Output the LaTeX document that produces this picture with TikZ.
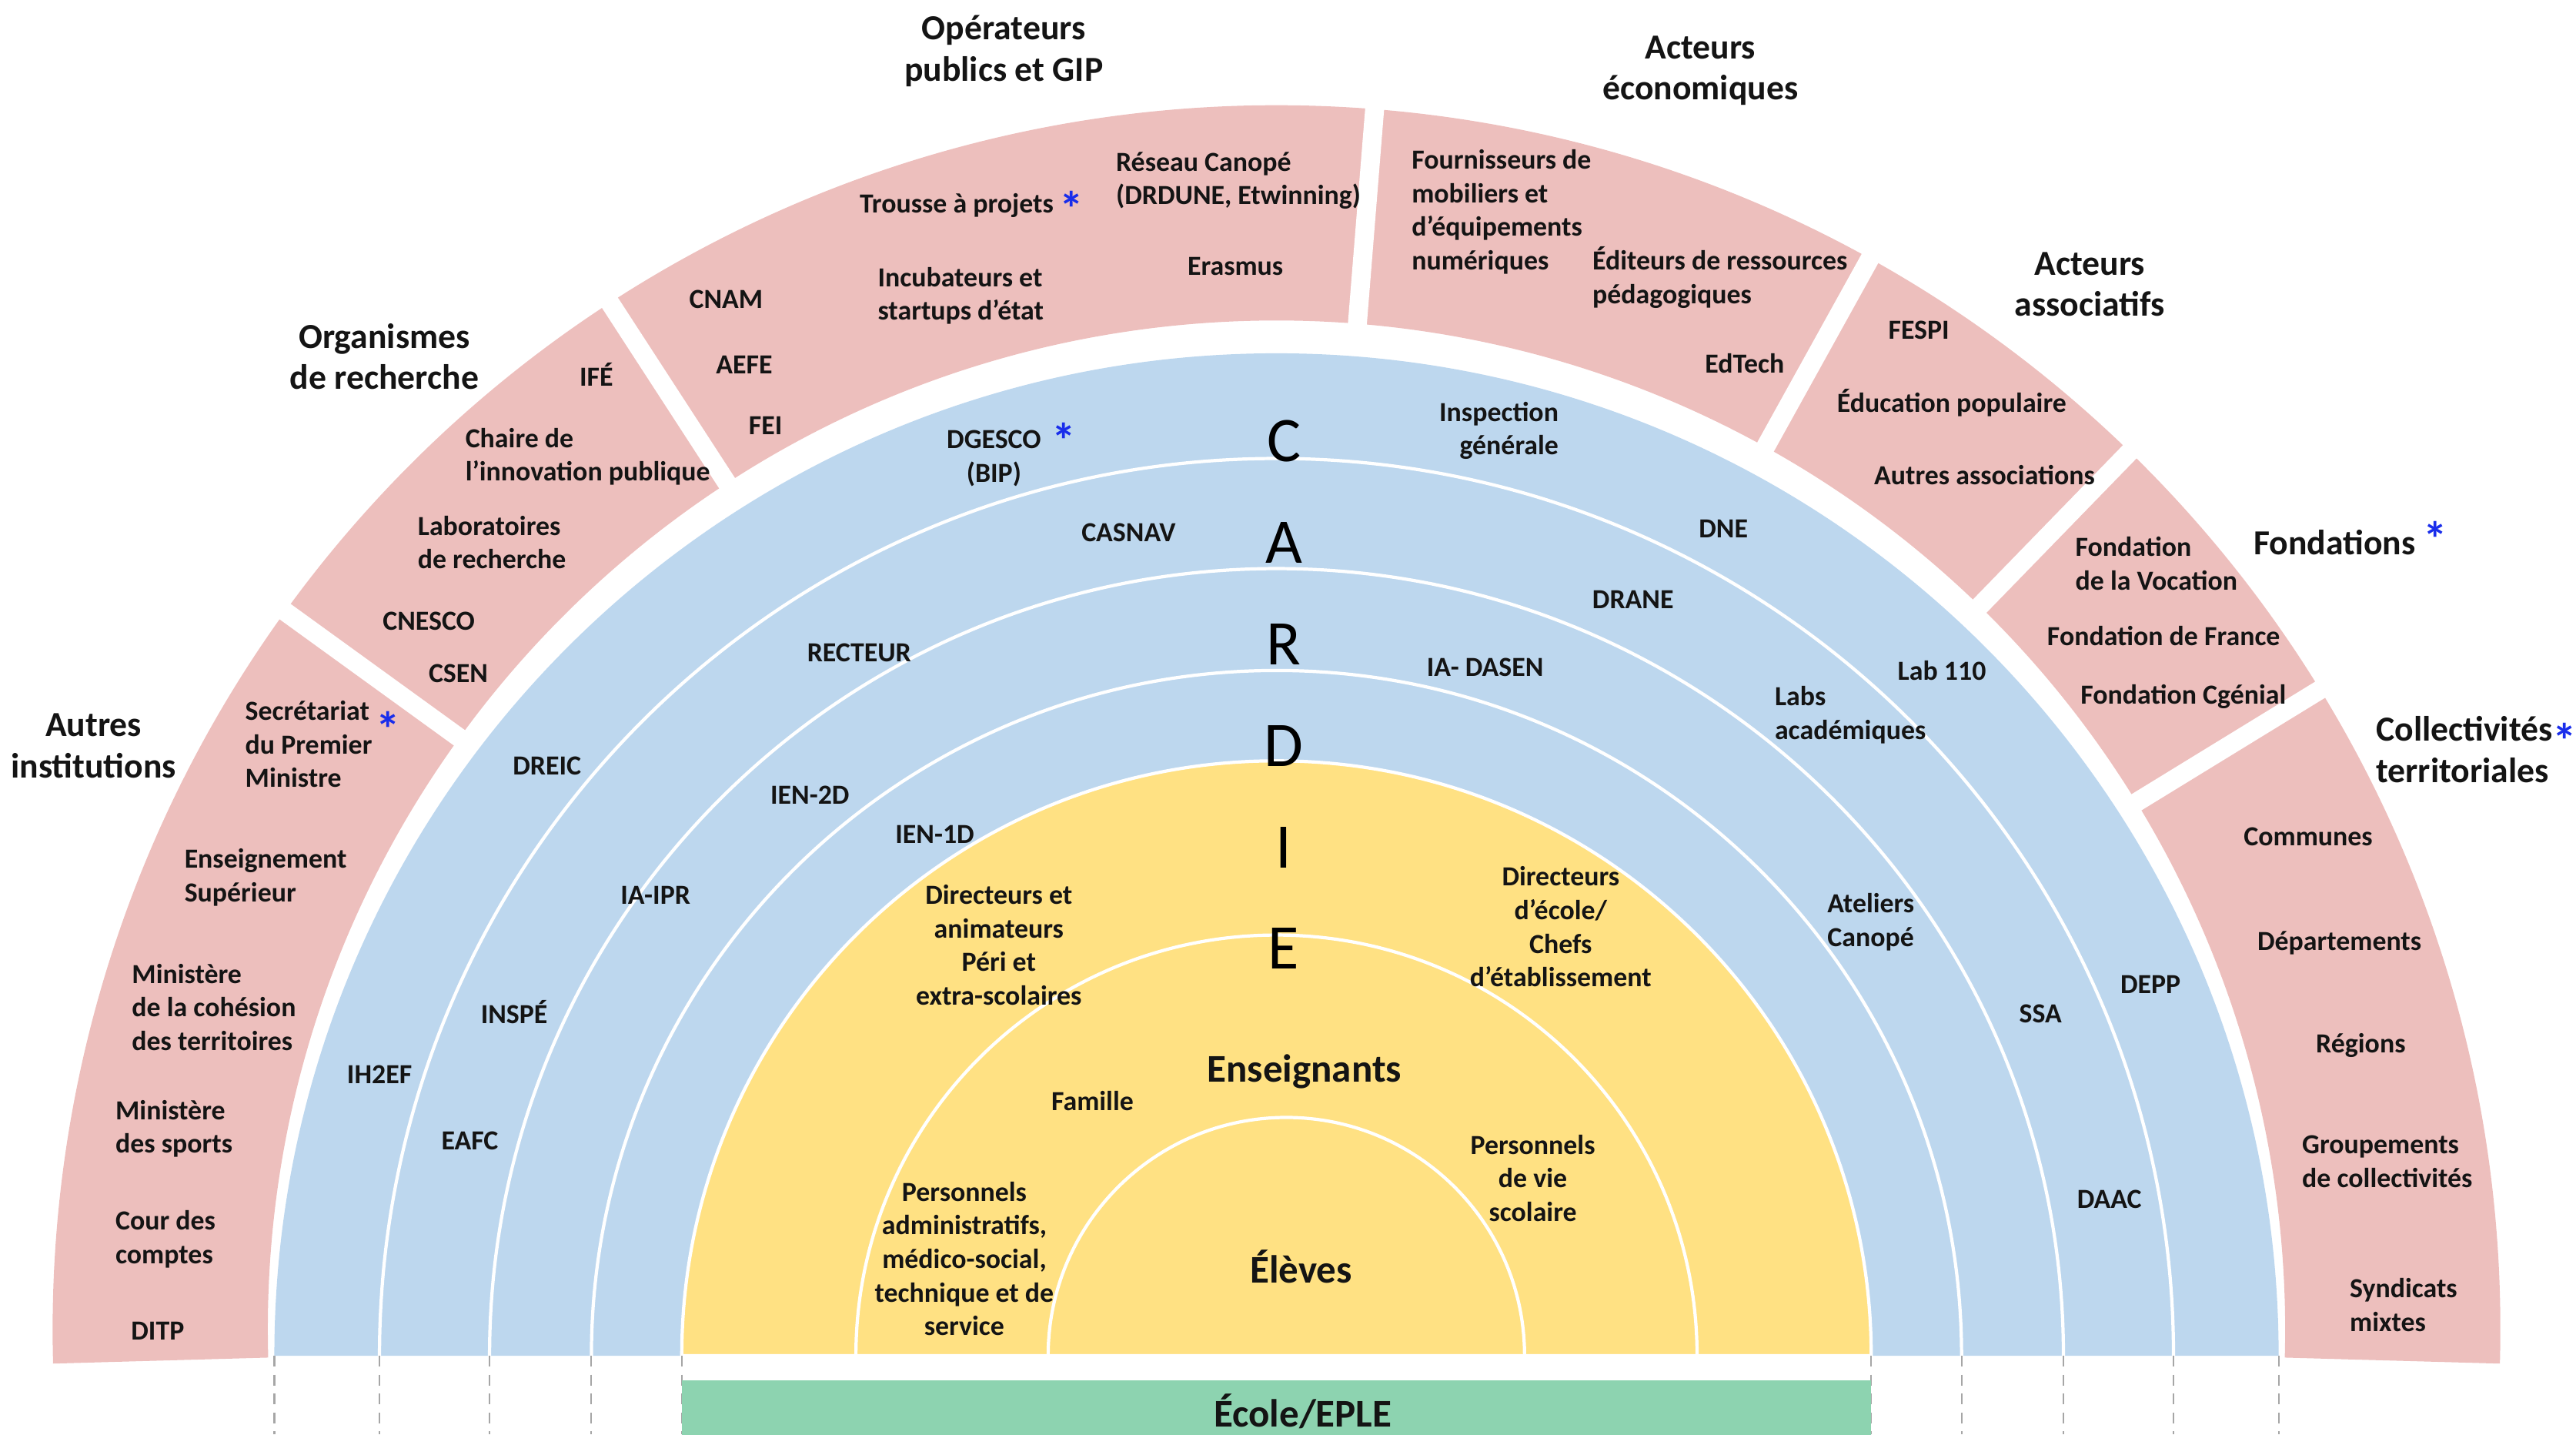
\documentclass[tikz,border=0pt]{standalone}
\usepackage{fontspec}
\setmainfont{Carlito}
\usepackage{xcolor}
\usepackage{tikz}

\definecolor{partner}{RGB}{237,191,189}
\definecolor{cardieblue}{RGB}{189,215,238}
\definecolor{school}{RGB}{255,225,131}
\definecolor{eple}{RGB}{141,211,176}
\definecolor{starblue}{RGB}{25,45,235}
\definecolor{ink}{RGB}{20,20,20}

\newcommand{\bstar}[1][0pt]{\raisebox{#1}[0pt][0pt]{\textcolor{starblue}{\fontsize{18}{18}\selectfont\bfseries *}}}

\tikzset{
  actor/.style={font=\fontsize{10.2}{12.4}\selectfont\bfseries, text=ink, align=center, inner sep=0pt},
  actorL/.style={actor, align=left, anchor=west},
  actorR/.style={actor, align=right, anchor=east},
  partnerlbl/.style={font=\fontsize{13}{15.3}\selectfont\bfseries, text=ink, align=center, inner sep=0pt},
  core/.style={font=\fontsize{14.5}{17}\selectfont\bfseries, text=ink, inner sep=0pt},
  cardie/.style={font=\fontsize{23.5}{28}\selectfont, text=black, inner sep=0pt},
  ring/.style={white, line width=1.2pt},
  sectorgap/.style={white, line width=7pt},
  guide/.style={black!35, line width=0.6pt, dash pattern=on 4pt off 3pt},
}

\begin{document}
\begin{tikzpicture}[x=0.021346cm, y=0.021346cm]
\newcommand{\Rpo}{745}; % partner band, outer radius
\newcommand{\Rpi}{614}; % partner band, inner radius
\newcommand{\Rb}{610}; % CARDIE rings, outer radius
\newcommand{\Ry}{362}; % school, outer radius

\useasboundingbox (-777,-47.8) rectangle (791,825);

\coordinate (O) at (0,0);  % centre of the rings
\coordinate (P) at (0,16); % centre of the partner band (sits a bit higher)

% partner band
\fill[partner, shift={(P)}] (-1.6:\Rpo) arc[start angle=-1.6, end angle=181.6, radius=\Rpo]
  -- (181.6:\Rpi) arc[start angle=181.6, end angle=-1.6, radius=\Rpi] -- cycle;
\foreach \a in {31.5,45.8,61.0,85.4,123.0,144.1}
  \draw[sectorgap, shift={(P)}] (\a:600) -- (\a:760);
%

% CARDIE rings
\fill[cardieblue] (\Rb,0) arc[start angle=0, end angle=180, radius=\Rb] -- cycle;
\foreach \r in {546,479,417}
  \draw[ring] (\r,0) arc[start angle=0, end angle=180, radius=\r];

% school
\filldraw[school, draw=white, line width=1.2pt] (\Ry,0) arc[start angle=0, end angle=180, radius=\Ry] -- cycle;
\draw[ring] (256,0) arc[start angle=0, end angle=180, radius=256];
\draw[ring] (151,0) arc[start angle=0, end angle=180, radius=145];

% guides under the rings
\foreach \r in {362,417,479,546,610} {
  \draw[guide] (-\r,0) -- (-\r,-48);
  \draw[guide] (\r,0) -- (\r,-48);
}

% ecole / EPLE
\fill[eple] (-\Ry,-15) rectangle (\Ry,-60);
\node[core] (ecole) at (16,-34) {École/EPLE};

% C A R D I E
\foreach \letr [count=\i from 0] in {C,A,R,D,I,E}
  \node[cardie] (cardie-\letr) at (4.5,556.6-61.8*\i) {\letr};

% partner families
\node[partnerlbl] (autres) at (-720,371) {Autres\\institutions};
\node[partnerlbl] (orga) at (-543,608) {Organismes\\de recherche};
\node[partnerlbl] (oper) at (-166,794) {Opérateurs\\publics et GIP};
\node[partnerlbl] (eco) at (258,782) {Acteurs\\économiques};
\node[partnerlbl] (asso) at (495,652) {Acteurs\\associatifs};
\node[partnerlbl] (fond) at (644,495) {Fondations\rlap{\hspace{3pt}\bstar[-0.5pt]}};
\node[partnerlbl, align=left, anchor=west] (coll) at (669,369) {Collectivités\bstar[-6.2pt]\\territoriales};

% autres institutions
\node[actorL] (sgpm) at (-628,372) {Secrétariat \bstar[-9.5pt]\\du Premier\\Ministre};
\node[actorL] (sup) at (-665,291) {Enseignement\\Supérieur};
\node[actorL] (cohesion) at (-697,212) {Ministère\\de la cohésion\\des territoires};
\node[actorL] (sports) at (-707,138) {Ministère\\des sports};
\node[actorL] (cour) at (-707,71) {Cour des\\comptes};
\node[actor] (ditp) at (-681,15) {DITP};

% organismes de recherche
\node[actor] (ife) at (-414,597) {IFÉ};
\node[actorL] (chaire) at (-494,547) {Chaire de\\l’innovation publique};
\node[actorL] (labo) at (-523,495) {Laboratoires\\de recherche};
\node[actor] (cnesco) at (-516,447) {CNESCO};
\node[actor] (csen) at (-498,415) {CSEN};

% operateurs publics
\node[actorL] (canope) at (-98,715) {Réseau Canopé\\(DRDUNE, Etwinning)};
\node[actorL] (trousse) at (-254,700) {Trousse à projets \bstar[-5pt]};
\node[actor] (erasmus) at (-25,663) {Erasmus};
\node[actorL] (incub) at (-243,645) {Incubateurs et\\startups d’état};
\node[actor] (cnam) at (-335,643) {CNAM};
\node[actor] (aefe) at (-324,603) {AEFE};
\node[actor] (fei) at (-311,566) {FEI};

% acteurs economiques
\node[actorL] (fourn) at (82,696) {Fournisseurs de\\mobiliers et\\d’équipements\\numériques};
\node[actorL] (editeurs) at (192,656) {Éditeurs de ressources\\pédagogiques};
\node[actor] (edtech) at (285,604) {EdTech};

% acteurs associatifs
\node[actor] (fespi) at (391,624) {FESPI};
\node[actor] (edpop) at (411,580) {Éducation populaire};
\node[actor] (autrasso) at (431,536) {Autres associations};

% fondations
\node[actorL] (vocation) at (486,482) {Fondation\\de la Vocation};
\node[actor] (france) at (540,438) {Fondation de France};
\node[actor] (cgenial) at (552,401) {Fondation Cgénial};

% collectivites
\node[actor] (communes) at (628,316) {Communes};
\node[actor] (depart) at (647,251) {Départements};
\node[actor] (regions) at (660,189) {Régions};
\node[actorL] (groupements) at (624,118) {Groupements\\de collectivités};
\node[actorL] (syndicats) at (653,31) {Syndicats\\mixtes};

% CARDIE rings, labels
\node[actor] (dgesco) at (-172,546) {DGESCO\rlap{\hspace{4pt}\bstar[-3.3pt]}\\(BIP)};
\node[actorR] (igen) at (172,563) {Inspection\\générale};
\node[actor] (casnav) at (-90,501) {CASNAV};
\node[actor] (dne) at (272,503) {DNE};
\node[actor] (recteur) at (-254,428) {RECTEUR};
\node[actor] (drane) at (217,460) {DRANE};
\node[actor] (iadasen) at (127,419) {IA- DASEN};
\node[actor] (lab) at (405,417) {Lab 110};
\node[actorL] (labsac) at (303,390) {Labs\\académiques};
\node[actor] (dreic) at (-444,359) {DREIC};
\node[actor] (ientwo) at (-284,341) {IEN-2D};
\node[actor] (ienone) at (-208,317) {IEN-1D};
\node[actor] (iaipr) at (-378,280) {IA-IPR};
\node[actorL] (ateliers) at (335,264) {Ateliers\\Canopé};
\node[actor] (depp) at (532,226) {DEPP};
\node[actor] (inspe) at (-464,209) {INSPÉ};
\node[actor] (ssa) at (465,208) {SSA};
\node[actor] (ihef) at (-546,171) {IH2EF};
\node[actor] (eafc) at (-491,131) {EAFC};
\node[actor] (daac) at (507,95) {DAAC};

% school, labels
\node[actor] (dirperi) at (-169,250) {Directeurs et\\animateurs\\Péri et\\extra-scolaires};
\node[actor] (dirchef) at (173,261) {Directeurs\\d’école/\\Chefs\\d’établissement};
\node[core] (enseignants) at (17,173) {Enseignants};
\node[actor] (famille) at (-112,155) {Famille};
\node[actor] (vie) at (156,108) {Personnels\\de vie\\scolaire};
\node[actor] (admin) at (-190,59) {Personnels\\administratifs,\\médico-social,\\technique et de\\service};
\node[core] (eleves) at (15,54) {Élèves};
\end{tikzpicture}
\end{document}
